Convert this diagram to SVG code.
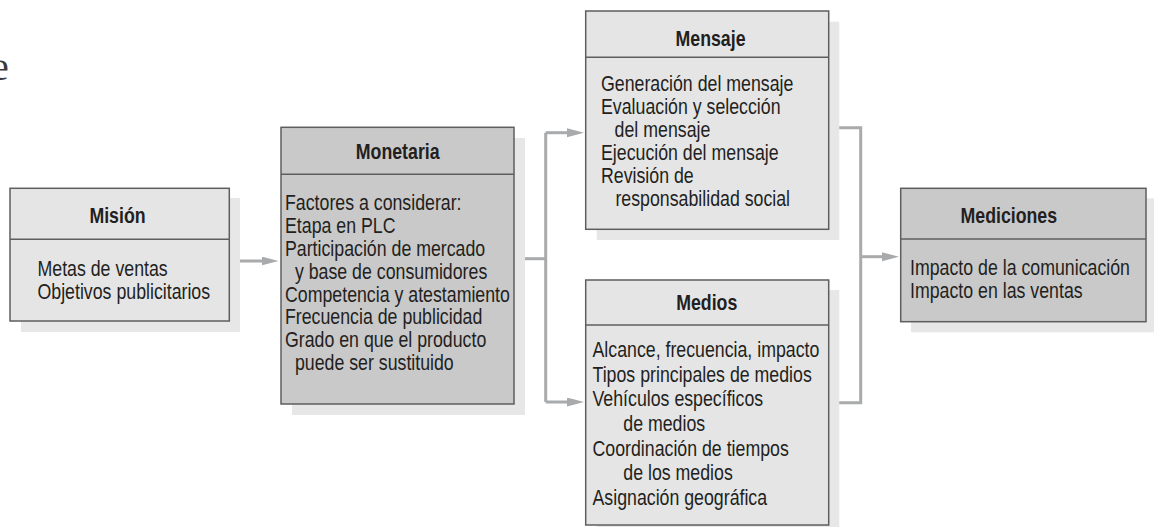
<svg xmlns="http://www.w3.org/2000/svg" width="1154" height="527" viewBox="0 0 1154 527">
<defs>
<style>
.shadow{fill:#e7e7e8;stroke:none}
.light{fill:#e5e5e6;stroke:#5e5e60;stroke-width:1.5}
.dark{fill:#c9c9ca;stroke:#5e5e60;stroke-width:1.5}
.div{stroke:#5e5e60;stroke-width:1.5;fill:none}
text{font-family:"Liberation Sans",Arial,sans-serif;font-size:21.5px;fill:#231f20}
.t{font-weight:bold;text-anchor:middle}
.conn{fill:none;stroke:#a9aaac;stroke-width:3}
</style>
<marker id="arr" markerUnits="userSpaceOnUse" markerWidth="18" markerHeight="10" refX="9" refY="4.5" orient="auto">
<path d="M0,0 L17,4.5 L0,9 Z" fill="#a9aaac"/>
</marker>
</defs>
<rect width="1154" height="527" fill="#ffffff"/>
<text x="-9" y="80" style="font-family:'Liberation Serif',serif;font-size:40px;fill:#3a3a3a">e</text>

<g id="connectors">
<path class="conn" d="M229,261 H270.5" marker-end="url(#arr)"/>
<path class="conn" d="M514,258.7 H545.7"/>
<path class="conn" d="M545.7,132.7 V402"/>
<path class="conn" d="M545.7,132.7 H576" marker-end="url(#arr)"/>
<path class="conn" d="M545.7,402 H576" marker-end="url(#arr)"/>
<path class="conn" d="M829,127.7 H860.7 V402.7 H829"/>
<path class="conn" d="M860.7,256.7 H891" marker-end="url(#arr)"/>
</g>

<g id="mision">
<rect class="shadow" x="21" y="198" width="219" height="134"/>
<rect class="light" x="10" y="188.3" width="219.3" height="132.7"/>
<line class="div" x1="10" y1="239.3" x2="229.3" y2="239.3"/>
<g transform="translate(117.5,0) scale(0.826,1)"><text class="t" x="0" y="223.3">Misión</text></g>
<g transform="translate(37.5,0) scale(0.826,1)">
<text x="0" y="276">Metas de ventas</text>
<text x="0" y="299">Objetivos publicitarios</text>
</g>
</g>

<g id="monetaria">
<rect class="shadow" x="292" y="138" width="233" height="277"/>
<rect class="dark" x="281" y="127.3" width="233" height="276.7"/>
<line class="div" x1="281" y1="174.3" x2="514" y2="174.3"/>
<g transform="translate(397.7,0) scale(0.826,1)"><text class="t" x="0" y="159.3">Monetaria</text></g>
<g transform="translate(285,0) scale(0.826,1)">
<text x="0" y="210">Factores a considerar:</text>
<text x="0" y="232.9">Etapa en PLC</text>
<text x="0" y="255.8">Participación de mercado</text>
<text x="12" y="278.7">y base de consumidores</text>
<text x="0" y="301.6">Competencia y atestamiento</text>
<text x="0" y="324.5">Frecuencia de publicidad</text>
<text x="0" y="347.4">Grado en que el producto</text>
<text x="12" y="370.3">puede ser sustituido</text>
</g>
</g>

<g id="mensaje">
<rect class="shadow" x="596.7" y="21.7" width="242.6" height="218.3"/>
<rect class="light" x="585.7" y="11" width="243" height="218.3"/>
<line class="div" x1="585.7" y1="57.3" x2="828.7" y2="57.3"/>
<g transform="translate(710.5,0) scale(0.826,1)"><text class="t" x="0" y="46">Mensaje</text></g>
<g transform="translate(601,0) scale(0.826,1)">
<text x="0" y="91">Generación del mensaje</text>
<text x="0" y="114">Evaluación y selección</text>
<text x="16.5" y="137">del mensaje</text>
<text x="0" y="160">Ejecución del mensaje</text>
<text x="0" y="183">Revisión de</text>
<text x="17.5" y="206">responsabilidad social</text>
</g>
</g>

<g id="medios">
<rect class="shadow" x="596.7" y="290" width="242.6" height="245"/>
<rect class="light" x="585.7" y="280" width="243" height="245"/>
<line class="div" x1="585.7" y1="325" x2="828.7" y2="325"/>
<g transform="translate(706.7,0) scale(0.826,1)"><text class="t" x="0" y="310">Medios</text></g>
<g transform="translate(592.5,0) scale(0.826,1)">
<text x="0" y="357">Alcance, frecuencia, impacto</text>
<text x="0" y="381.7">Tipos principales de medios</text>
<text x="0" y="406.4">Vehículos específicos</text>
<text x="37.3" y="431.1">de medios</text>
<text x="0" y="455.8">Coordinación de tiempos</text>
<text x="37.3" y="480.5">de los medios</text>
<text x="0" y="505.2">Asignación geográfica</text>
</g>
</g>

<g id="mediciones">
<rect class="shadow" x="911" y="198.3" width="243" height="134"/>
<rect class="dark" x="900.7" y="188.3" width="245.3" height="133.4"/>
<line class="div" x1="900.7" y1="239" x2="1146" y2="239"/>
<g transform="translate(1008.8,0) scale(0.826,1)"><text class="t" x="0" y="223.3">Mediciones</text></g>
<g transform="translate(910,0) scale(0.826,1)">
<text x="0" y="275">Impacto de la comunicación</text>
<text x="0" y="298">Impacto en las ventas</text>
</g>
</g>
</svg>
